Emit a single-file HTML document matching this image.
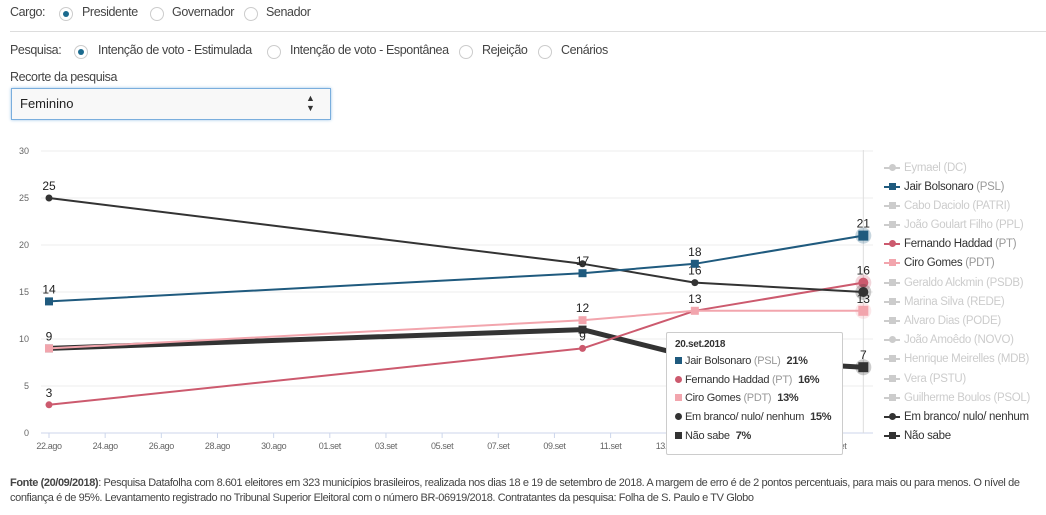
<!DOCTYPE html>
<html><head><meta charset="utf-8">
<style>
body{margin:0;width:1046px;height:515px;background:#fff;font-family:"Liberation Sans",sans-serif;color:#444;position:relative;overflow:hidden}
.a{position:absolute;white-space:nowrap}
.t{font-size:12.5px;letter-spacing:-0.4px;color:#444}
.radio{position:absolute;width:14px;height:14px;border:1px solid #ccc;border-radius:50%;box-sizing:border-box;background:#fff}
.radio.on::after{content:"";position:absolute;left:3px;top:3px;width:6px;height:6px;border-radius:50%;background:#1b6a8e}
.leg{position:absolute;left:884px;font-size:11.5px;letter-spacing:-0.3px;white-space:nowrap}
.leg .ic{display:inline-block;width:16px;position:relative;height:8px;margin-right:4px;vertical-align:middle}
.leg .ic::before{content:"";position:absolute;left:0;top:3px;width:16px;height:2px;background:currentColor}
.leg .ic i{position:absolute;left:5px;top:0;width:7px;height:7px;background:currentColor}
.leg .ic i.c{border-radius:50%}
.dim{color:#ccc}
.tip{position:absolute;left:666px;top:332px;width:177px;height:123px;background:#fff;border:1px solid #ccc;box-sizing:border-box;border-radius:2px;font-size:11px;letter-spacing:-0.3px;color:#333}
.tip div{position:absolute;left:8px;white-space:nowrap}
.tip b{margin-left:6px}
.sq{display:inline-block;width:7px;height:7px;margin-right:3px}
</style></head><body>
<div class="a t" style="left:10px;top:5px">Cargo:</div>
<div class="radio on" style="left:59px;top:7px"></div>
<div class="a t" style="left:82px;top:5px">Presidente</div>
<div class="radio" style="left:150px;top:7px"></div>
<div class="a t" style="left:172px;top:5px">Governador</div>
<div class="radio" style="left:244px;top:7px"></div>
<div class="a t" style="left:266px;top:5px">Senador</div>
<div class="a" style="left:10px;top:31px;width:1036px;height:1px;background:#ddd"></div>
<div class="a t" style="left:10px;top:43px">Pesquisa:</div>
<div class="radio on" style="left:74px;top:45px"></div>
<div class="a t" style="left:98px;top:43px">Intenção de voto - Estimulada</div>
<div class="radio" style="left:267px;top:45px"></div>
<div class="a t" style="left:290px;top:43px">Intenção de voto - Espontânea</div>
<div class="radio" style="left:459px;top:45px"></div>
<div class="a t" style="left:482px;top:43px">Rejeição</div>
<div class="radio" style="left:538px;top:45px"></div>
<div class="a t" style="left:561px;top:43px">Cenários</div>
<div class="a t" style="left:10px;top:70px">Recorte da pesquisa</div>
<div class="a" style="left:11px;top:88px;width:320px;height:32px;border:1px solid #7aaedd;box-shadow:0 0 3px #9cc4e8;box-sizing:border-box;background:#f8f8f8">
<span class="a" style="left:8px;top:7px;font-size:13px;color:#222">Feminino</span>
<span class="a" style="left:294px;top:4px;font-size:9px;line-height:10px;color:#333">▲<br>▼</span>
</div>

<svg class="a" style="left:0;top:140px" width="1046" height="320" id="chart"></svg>

<div class="leg dim" style="top:162px"><span class="ic"><i class="c"></i></span>Eymael (DC)</div>
<div class="leg" style="top:181px;color:#1f5a7e"><span class="ic"><i></i></span><span style="color:#333">Jair Bolsonaro <span style="color:#999">(PSL)</span></span></div>
<div class="leg dim" style="top:200px"><span class="ic"><i></i></span>Cabo Daciolo (PATRI)</div>
<div class="leg dim" style="top:219px"><span class="ic"><i></i></span>João Goulart Filho (PPL)</div>
<div class="leg" style="top:238px;color:#cc5a6e"><span class="ic"><i class="c"></i></span><span style="color:#333">Fernando Haddad <span style="color:#999">(PT)</span></span></div>
<div class="leg" style="top:257px;color:#f2a5ad"><span class="ic"><i></i></span><span style="color:#333">Ciro Gomes <span style="color:#999">(PDT)</span></span></div>
<div class="leg dim" style="top:277px"><span class="ic"><i></i></span>Geraldo Alckmin (PSDB)</div>
<div class="leg dim" style="top:296px"><span class="ic"><i></i></span>Marina Silva (REDE)</div>
<div class="leg dim" style="top:315px"><span class="ic"><i></i></span>Alvaro Dias (PODE)</div>
<div class="leg dim" style="top:334px"><span class="ic"><i class="c"></i></span>João Amoêdo (NOVO)</div>
<div class="leg dim" style="top:353px"><span class="ic"><i></i></span>Henrique Meirelles (MDB)</div>
<div class="leg dim" style="top:373px"><span class="ic"><i></i></span>Vera (PSTU)</div>
<div class="leg dim" style="top:392px"><span class="ic"><i></i></span>Guilherme Boulos (PSOL)</div>
<div class="leg" style="top:411px;color:#333"><span class="ic"><i class="c"></i></span>Em branco/ nulo/ nenhum</div>
<div class="leg" style="top:430px;color:#333"><span class="ic"><i></i></span>Não sabe</div>

<div class="tip">
<div style="top:6px;font-weight:bold;font-size:10px">20.set.2018</div>
<div style="top:22px"><span class="sq" style="background:#1f5a7e"></span>Jair Bolsonaro <span style="color:#999">(PSL)</span><b>21%</b></div>
<div style="top:41px"><span class="sq" style="background:#cc5a6e;border-radius:50%"></span>Fernando Haddad <span style="color:#999">(PT)</span><b>16%</b></div>
<div style="top:59px"><span class="sq" style="background:#f2a5ad"></span>Ciro Gomes <span style="color:#999">(PDT)</span><b>13%</b></div>
<div style="top:78px"><span class="sq" style="background:#333;border-radius:50%"></span>Em branco/ nulo/ nenhum<b>15%</b></div>
<div style="top:97px"><span class="sq" style="background:#333"></span>Não sabe<b>7%</b></div>
</div>

<div class="a" style="left:10px;top:476px;font-size:11px;line-height:15px;color:#444;letter-spacing:-0.4px;width:1100px;white-space:normal"><b style="font-weight:bold">Fonte (20/09/2018)</b>: Pesquisa Datafolha com 8.601 eleitores em 323 municípios brasileiros, realizada nos dias 18 e 19 de setembro de 2018. A margem de erro é de 2 pontos percentuais, para mais ou para menos. O nível de<br>confiança é de 95%. Levantamento registrado no Tribunal Superior Eleitoral com o número BR-06919/2018. Contratantes da pesquisa: Folha de S. Paulo e TV Globo</div>

<script>
const days=[0,19,23,29]; // days since 22.ago
const yTicks=[0,5,10,15,20,25,30];
const xTickLabels=["22.ago","24.ago","26.ago","28.ago","30.ago","01.set","03.set","05.set","07.set","09.set","11.set","13.set","15.set","17.set","19.set"];
const bolsonaro=[14,17,18,21];
const haddad=[3,9,13,16];
const ciro=[9,12,13,13];
const branco=[25,18,16,15];
const naoSabe=[9,11,8,7];

const svg=document.getElementById('chart');
const NS='http://www.w3.org/2000/svg';
const x=d=>49+d*28.08;
const y=v=>293-v*9.4;
function mk(t,a){const e=document.createElementNS(NS,t);for(const k in a)e.setAttribute(k,a[k]);svg.appendChild(e);return e;}
yTicks.forEach(v=>{
  const g=mk('line',{x1:41,x2:873,y1:y(v),y2:y(v),stroke:v===0?'#ccd6eb':'#eee','stroke-width':1});
  
  
  const t=mk('text',{x:29,y:y(v)+3,'text-anchor':'end','font-size':9,fill:'#666','font-family':'Liberation Sans, sans-serif'});
  t.textContent=v;
  
  
});
xTickLabels.forEach((l,i)=>{
  const xx=x(i*2);
  const tk=mk('line',{x1:xx,x2:xx,y1:y(0),y2:y(0)+5,stroke:'#ccd6eb'});
  
  
  const t=mk('text',{x:xx,y:y(0)+16,'text-anchor':'middle','font-size':9,fill:'#666','font-family':'Liberation Sans, sans-serif','letter-spacing':'-0.4'});
  t.textContent=l;
  
  
});
const ch=mk('line',{x1:x(days[3]),x2:x(days[3]),y1:10,y2:y(0),stroke:'#ddd'});


const series=[
 {n:'nao-sabe',d:naoSabe,c:'#333',w:5,m:'sq',lab:[0,3]},
 {n:'haddad',d:haddad,c:'#cc5a6e',w:2,m:'c',lab:[0,1,3]},
 {n:'ciro',d:ciro,c:'#f2a5ad',w:2,m:'sq',lab:[1,2,3]},
 {n:'branco',d:branco,c:'#333',w:2,m:'c',lab:[0,2]},
 {n:'bolsonaro',d:bolsonaro,c:'#1f5a7e',w:2,m:'sq',lab:[0,1,2,3]},
];
series.forEach(s=>{
  const p=mk('polyline',{points:s.d.map((v,i)=>x(days[i])+','+y(v)).join(' '),fill:'none',stroke:s.c,'stroke-width':s.w,'stroke-linejoin':'round'});
  
  
  s.d.forEach((v,i)=>{
    const cx=x(days[i]),cy=y(v);const last=i===3;
    if(last){const h=mk('circle',{cx,cy,r:8,fill:s.c,opacity:0.25});}
    let e;
    const r=last?5:(s.m==='sq'?4:3.5);
    if(s.m==='sq') e=mk('rect',{x:cx-r,y:cy-r,width:2*r,height:2*r,fill:s.c});
    else e=mk('circle',{cx,cy,r,fill:s.c});
    
    
    if(s.lab.includes(i)){
      const t=mk('text',{x:cx,y:cy-8,'text-anchor':'middle','font-size':12,fill:'#222','font-family':'Liberation Sans, sans-serif'});
      t.textContent=v;
      
      
    }
  });
});
</script>
</body></html>
